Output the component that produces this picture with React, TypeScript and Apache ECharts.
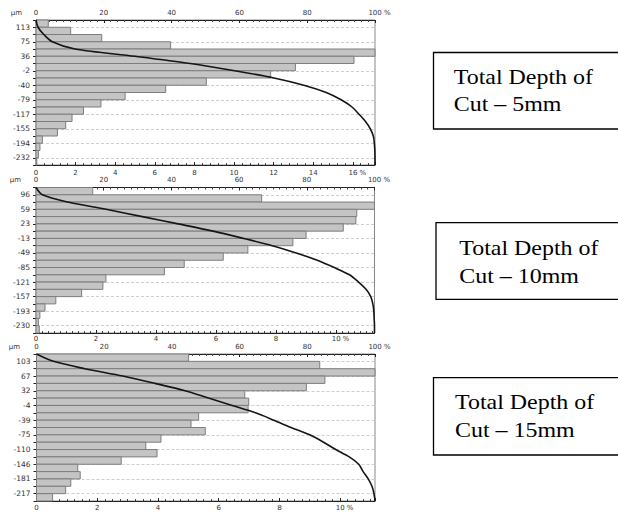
import React, { useEffect, useRef } from 'react';
import * as echarts from 'echarts';

// Depth tick labels (µm) shown at every other bin boundary
const depthLabels1 = ['113', '75', '36', '-2', '-40', '-79', '-117', '-155', '-194', '-232'];
const depthLabels2 = ['96', '59', '23', '-13', '-49', '-85', '-121', '-157', '-193', '-230'];
const depthLabels3 = ['103', '67', '32', '-4', '-39', '-75', '-110', '-146', '-181', '-217'];

// Histogram frequency (%) per depth bin, top to bottom
const freq1 = [0.62, 1.75, 3.32, 6.8, 17.12, 16.06, 13.1, 11.85, 8.6, 6.55, 4.5, 3.28, 2.4, 1.82, 1.5, 1.08, 0.32, 0.2, 0.12, 0.04];
const freq2 = [1.89, 7.52, 11.28, 10.69, 10.66, 10.24, 9.0, 8.56, 7.06, 6.24, 4.94, 4.28, 2.33, 2.23, 1.52, 0.66, 0.3, 0.13, 0.08, 0.11];
const freq3 = [5.01, 9.33, 11.15, 9.5, 8.89, 6.86, 6.99, 6.97, 5.34, 5.09, 5.56, 4.1, 3.6, 3.97, 2.79, 1.36, 1.44, 1.13, 0.96, 0.53];

// Cumulative material ratio curve (%) read at each bin boundary
const cum1 = [0, 0.6, 2.3, 4.8, 11.5, 29.2, 45.5, 58.6, 70.2, 79.0, 85.6, 90.0, 93.2, 95.3, 97.2, 98.6, 99.5, 99.8, 99.95, 100, 100];
const cum2 = [0, 1.9, 9.4, 20.7, 31.4, 42.0, 52.3, 61.3, 69.8, 76.9, 83.1, 88.1, 92.6, 95.3, 97.5, 98.9, 99.5, 99.8, 99.9, 100, 100];
const cum3 = [0, 5.0, 14.3, 25.5, 35.0, 43.9, 50.8, 57.8, 64.7, 70.1, 75.2, 80.7, 84.8, 88.4, 92.4, 95.2, 96.5, 98.0, 99.1, 99.7, 100];

const boxLine1 = 'Total Depth of';
const boxLine2 = ['Cut – 5mm', 'Cut – 10mm', 'Cut – 15mm'];
const unitLabel = 'µm';

const FONT = 'DejaVu Sans';

const panels = [
  { labels: depthLabels1, freq: freq1, cum: cum1 },
  { labels: depthLabels2, freq: freq2, cum: cum2 },
  { labels: depthLabels3, freq: freq3, cum: cum3 },
];

const layout = [
  { grid: { left: 36, top: 20, width: 339, height: 145 }, topMargin: 3.5, bottomMargin: 4, minorSplit: 5, unitX: 22, unitY: 13 },
  { grid: { left: 36, top: 187.5, width: 338.5, height: 145.5 }, topMargin: 4, bottomMargin: 2, minorSplit: 10, unitX: 21, unitY: 180 },
  { grid: { left: 36.5, top: 354, width: 338.5, height: 147 }, topMargin: 4, bottomMargin: 3.5, minorSplit: 8, unitX: 20, unitY: 346.5 },
];

const boxes = [
  { x: 433.5, y: 52.5, h: 76.5, tx: 453.8, b1: 84, b2: 111.2 },
  { x: 436, y: 222.7, h: 76.6, tx: 459.3, b1: 255.2, b2: 283 },
  { x: 433.5, y: 377.7, h: 77.3, tx: 455, b1: 409.2, b2: 436.8 },
];

const labelBase = { fontFamily: FONT, fontSize: 7, color: '#333' };
const pctRich = { p: { fontFamily: FONT, fontSize: 7, color: '#333', padding: [0, 0, 0, 9] } };

function makeCats(labels: string[]) {
  return Array.from({ length: 21 }, (_, k) => (k % 2 === 1 ? labels[(k - 1) / 2] : ''));
}

function buildOption() {
  const grid: any[] = [];
  const xAxis: any[] = [];
  const yAxis: any[] = [];
  const series: any[] = [];
  const graphic: any[] = [];

  panels.forEach((p, g) => {
    const L = layout[g];
    grid.push({ ...L.grid, show: true, borderColor: '#8a8a8a', borderWidth: 1, backgroundColor: 'transparent' });
    const fmax = Math.max(...p.freq);
    const lastTick = Math.floor(fmax / 2) * 2;
    xAxis.push({
      type: 'value', gridIndex: g, position: 'top', min: 0, max: 100, interval: 20,
      axisLine: { show: true, lineStyle: { color: '#222', width: 1 } },
      axisTick: { show: true, inside: true, length: 3, lineStyle: { color: '#222' } },
      minorTick: { show: true, splitNumber: 10, length: 2, lineStyle: { color: '#444' } },
      splitLine: { show: false }, minorSplitLine: { show: false },
      axisLabel: {
        ...labelBase, margin: L.topMargin, rich: pctRich,
        formatter: (v: number) => (v === 100 ? '{p|100 %}' : String(v)),
      },
    });
    xAxis.push({
      type: 'value', gridIndex: g, position: 'bottom', min: 0, max: fmax, interval: 2,
      axisLine: { show: true, lineStyle: { color: '#222', width: 1 } },
      axisTick: { show: true, inside: true, length: 3, lineStyle: { color: '#222' } },
      minorTick: { show: true, splitNumber: L.minorSplit, length: 2, lineStyle: { color: '#444' } },
      splitLine: { show: false }, minorSplitLine: { show: false },
      axisLabel: {
        ...labelBase, margin: L.bottomMargin, rich: pctRich, showMaxLabel: true,
        formatter: (v: number) => {
          if (Math.abs(v - lastTick) < 1e-6) return `{p|${v} %}`;
          if (Math.abs(v % 2) > 1e-6) return '';
          return String(v);
        },
      },
    });
    yAxis.push({
      type: 'category', gridIndex: g, inverse: true, boundaryGap: false, data: makeCats(p.labels),
      axisLine: { show: true, lineStyle: { color: '#222' } },
      axisTick: { show: true, interval: 0, length: 3, lineStyle: { color: '#222' } },
      axisLabel: { fontFamily: FONT, fontSize: 7.5, color: '#333', interval: 0, margin: 6 },
      splitLine: { show: true, interval: (i: number) => i % 2 === 1, lineStyle: { color: '#cfcfcf', type: [3, 2], width: 1 } },
    });
    series.push({
      type: 'custom', xAxisIndex: g * 2 + 1, yAxisIndex: g,
      data: p.freq.map((v, i) => [v, i]),
      encode: { x: 0, y: 1 },
      renderItem: (params: any, api: any) => {
        const v = api.value(0);
        const i = api.value(1);
        const p0 = api.coord([0, i]);
        const p1 = api.coord([v, i + 1]);
        return {
          type: 'rect',
          shape: { x: p0[0], y: p0[1], width: p1[0] - p0[0], height: p1[1] - p0[1] },
          style: { fill: '#c4c4c4', stroke: '#7d7d7d', lineWidth: 1 },
        };
      },
      z: 2,
    });
    series.push({
      type: 'line', xAxisIndex: g * 2, yAxisIndex: g,
      data: p.cum.map((v, i) => [v, i]),
      showSymbol: false, symbol: 'none', smooth: 0.3,
      lineStyle: { color: '#151515', width: 1.6 },
      z: 5,
    });
    graphic.push({
      type: 'text', x: L.unitX, y: L.unitY,
      style: { text: unitLabel, fontFamily: FONT, fontSize: 7, fill: '#333', align: 'right', verticalAlign: 'middle' },
    });
  });

  boxes.forEach((b, i) => {
    graphic.push({
      type: 'rect', shape: { x: b.x, y: b.y, width: 200, height: b.h },
      style: { fill: '#fff', stroke: '#000', lineWidth: 1.3 },
    });
    graphic.push({
      type: 'text', x: b.tx, y: b.b1 - 7.1, scaleX: 1.14,
      style: { text: boxLine1, fontFamily: 'Liberation Serif', fontSize: 21, fill: '#000', align: 'left', verticalAlign: 'middle' },
    });
    graphic.push({
      type: 'text', x: b.tx, y: b.b2 - 7.1, scaleX: 1.14,
      style: { text: boxLine2[i], fontFamily: 'Liberation Serif', fontSize: 21, fill: '#000', align: 'left', verticalAlign: 'middle' },
    });
  });

  return {
    animation: false,
    backgroundColor: '#fff',
    grid, xAxis, yAxis, series, graphic,
  };
}

export default function App() {
  const ref = useRef<HTMLDivElement>(null);
  useEffect(() => {
    if (!ref.current) return;
    const chart = echarts.init(ref.current, null, { renderer: 'svg' });
    chart.setOption(buildOption() as any);
    return () => chart.dispose();
  }, []);
  return (
    <div
      ref={ref}
      style={{ position: 'absolute', left: 0, top: 0, width: 618, height: 512, background: '#fff' }}
    />
  );
}
